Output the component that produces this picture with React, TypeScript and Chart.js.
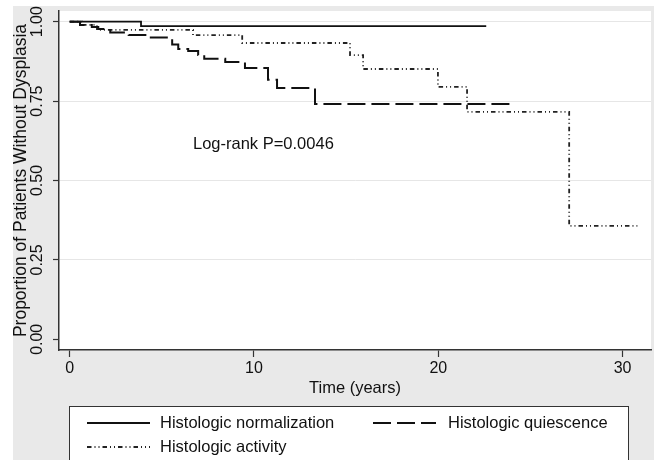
import React, { useEffect, useRef } from 'react';
import { Chart, registerables } from 'chart.js';

Chart.register(...registerables);

// Kaplan-Meier step data (time in years, survival proportion after the step)
const normTimes = [0, 3.87, 22.6];
const normSurv = [1.0, 0.986, 0.986];

const quiesTimes = [0, 0.56, 1.2, 1.55, 2.2, 3.2, 4.25, 5.56, 5.89, 6.43, 6.97, 7.3, 8.44, 9.51, 10.76, 11.25, 13.31, 24.16];
const quiesSurv = [1.0, 0.99, 0.983, 0.977, 0.966, 0.958, 0.95, 0.928, 0.914, 0.908, 0.895, 0.883, 0.873, 0.854, 0.817, 0.791, 0.741, 0.741];

const actTimes = [0, 0.67, 1.48, 6.69, 9.36, 15.21, 15.92, 19.98, 21.56, 27.1, 30.8];
const actSurv = [1.0, 0.99, 0.974, 0.958, 0.933, 0.895, 0.851, 0.795, 0.716, 0.357, 0.357];

const seriesNames = ['Histologic normalization', 'Histologic quiescence', 'Histologic activity'];

const xTickValues = [0, 10, 20, 30];
const xTickLabels = ['0', '10', '20', '30'];
const yTickValues = [0, 0.25, 0.5, 0.75, 1.0];
const yTickLabels = ['0.00', '0.25', '0.50', '0.75', '1.00'];

const xTitle = 'Time (years)';
const yTitle = 'Proportion of Patients Without Dysplasia';
const annotation = 'Log-rank P=0.0046';

const FONT = '"Liberation Sans", Arial, Helvetica, sans-serif';
const BG = '#e9e9e9';
const INK = '#111111';

const styles = [
  { color: '#111111', width: 1.8, dash: [] as number[] },
  { color: '#111111', width: 2, dash: [18, 6] },
  { color: '#222222', width: 1.8, dash: [4.5, 3, 1, 3, 1, 3] },
];

const toPoints = (t: number[], s: number[]) => t.map((v, i) => ({ x: v, y: s[i] }));

const decorPlugin = {
  id: 'stataDecor',
  beforeDraw(chart: any) {
    const { ctx, chartArea: a } = chart;
    ctx.save();
    ctx.fillStyle = '#ffffff';
    ctx.fillRect(0, 0, chart.width, chart.height);
    ctx.fillStyle = BG;
    ctx.fillRect(13, 6, chart.width - 13, chart.height - 6);
    ctx.fillStyle = '#ffffff';
    ctx.fillRect(a.left, a.top, a.right - a.left, a.bottom - a.top);
    ctx.restore();
  },
  afterDraw(chart: any) {
    const { ctx, chartArea: a, scales } = chart;
    const xs = scales.x;
    const ys = scales.y;
    ctx.save();
    ctx.fillStyle = INK;
    ctx.textAlign = 'center';
    ctx.textBaseline = 'middle';
    ctx.font = `16px ${FONT}`;
    yTickValues.forEach((v, i) => {
      const py = ys.getPixelForValue(v);
      ctx.save();
      ctx.translate(38, py);
      ctx.rotate(-Math.PI / 2);
      ctx.fillText(yTickLabels[i], 0, 0);
      ctx.restore();
    });
    xTickValues.forEach((v, i) => {
      ctx.fillText(xTickLabels[i], xs.getPixelForValue(v), 369);
    });
    ctx.font = `16.5px ${FONT}`;
    ctx.fillText(xTitle, (a.left + a.right) / 2, 388);
    ctx.save();
    ctx.font = `17.5px ${FONT}`;
    ctx.translate(21, (a.top + a.bottom) / 2);
    ctx.rotate(-Math.PI / 2);
    ctx.fillText(yTitle, 0, 0);
    ctx.restore();
    ctx.textAlign = 'left';
    ctx.fillText(annotation, 193, 144);

    // legend box
    ctx.font = `16.5px ${FONT}`;
    ctx.fillStyle = '#ffffff';
    ctx.fillRect(69, 406, 560, 60);
    ctx.strokeStyle = '#333333';
    ctx.lineWidth = 1;
    ctx.strokeRect(69.5, 406.5, 559, 60);
    const items = [
      { x0: 87, x1: 150, tx: 160, y: 423 },
      { x0: 373, x1: 436, tx: 448, y: 423 },
      { x0: 87, x1: 150, tx: 160, y: 447 },
    ];
    items.forEach((it, i) => {
      const st = styles[i];
      ctx.beginPath();
      ctx.setLineDash(st.dash);
      ctx.strokeStyle = st.color;
      ctx.lineWidth = st.width;
      ctx.moveTo(it.x0, it.y);
      ctx.lineTo(it.x1, it.y);
      ctx.stroke();
      ctx.setLineDash([]);
      ctx.fillStyle = INK;
      ctx.fillText(seriesNames[i], it.tx, it.y);
    });
    ctx.restore();
  },
};

export default function App() {
  const ref = useRef<HTMLCanvasElement | null>(null);
  useEffect(() => {
    document.body.style.margin = '0';
    const canvas = ref.current;
    if (!canvas) return;
    const allSeries = [
      toPoints(normTimes, normSurv),
      toPoints(quiesTimes, quiesSurv),
      toPoints(actTimes, actSurv),
    ];
    const chart = new Chart(canvas, {
      type: 'line',
      data: {
        datasets: allSeries.map((pts, i) => ({
          label: seriesNames[i],
          data: pts,
          borderColor: styles[i].color,
          borderWidth: styles[i].width,
          borderDash: styles[i].dash,
          borderCapStyle: 'butt',
          stepped: 'before',
          pointRadius: 0,
          fill: false,
          tension: 0,
        })),
      },
      options: {
        responsive: false,
        animation: false,
        layout: { padding: { top: 11, right: 3, left: 0, bottom: 0 } },
        plugins: { legend: { display: false }, tooltip: { enabled: false } },
        scales: {
          x: {
            type: 'linear',
            min: -0.58,
            max: 31.54,
            afterBuildTicks: (s: any) => { s.ticks = xTickValues.map((v) => ({ value: v })); },
            afterFit: (s: any) => { s.height = 110; },
            ticks: { display: false },
            grid: { drawOnChartArea: false, drawTicks: true, tickLength: 7, tickColor: '#333333', tickWidth: 1.2 },
            border: { display: true, color: '#333333', width: 1.5 },
          },
          y: {
            type: 'linear',
            min: -0.0337,
            max: 1.0337,
            afterBuildTicks: (s: any) => { s.ticks = yTickValues.map((v) => ({ value: v })); },
            afterFit: (s: any) => { s.width = 59; },
            ticks: { display: false },
            grid: {
              drawOnChartArea: true,
              drawTicks: true,
              tickLength: 6,
              tickColor: '#333333',
              tickWidth: 1.2,
              color: (c: any) => (c.tick && c.tick.value === 0 ? 'rgba(0,0,0,0)' : '#e6e6e6'),
              lineWidth: 1,
            },
            border: { display: true, color: '#333333', width: 1.5 },
          },
        },
      },
      plugins: [decorPlugin],
    } as any);
    return () => chart.destroy();
  }, []);
  return <canvas ref={ref} width={654} height={460} style={{ display: 'block' }} />;
}
